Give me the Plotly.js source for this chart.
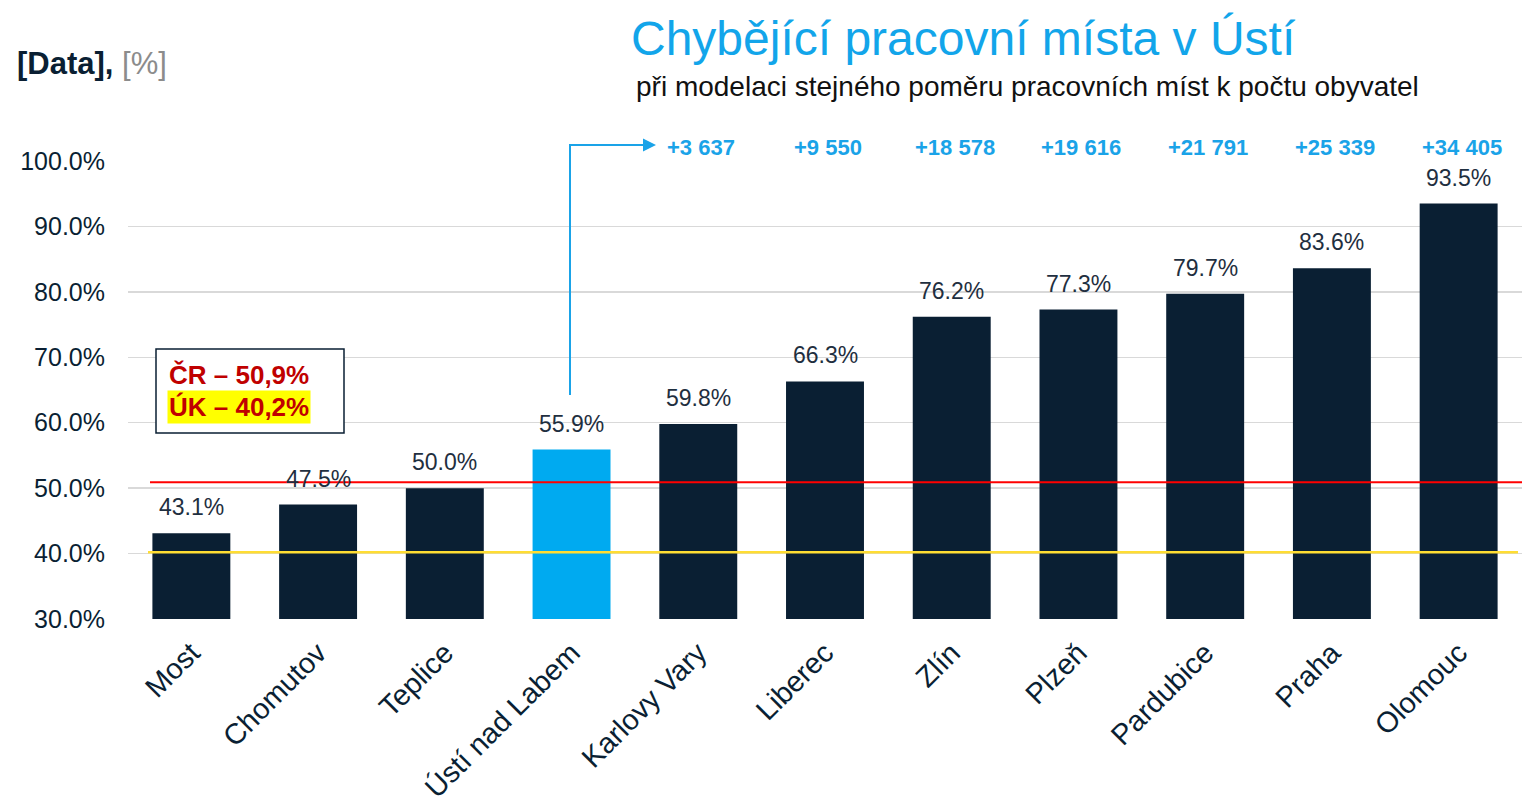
<!DOCTYPE html>
<html>
<head>
<meta charset="utf-8">
<script src="https://cdn.plot.ly/plotly-3.0.1.min.js"></script>
<style>html,body{margin:0;padding:0;background:#fff;}#chart{width:1522px;height:812px;}</style>
</head>
<body>
<div id="chart"></div>
<script>
const categories = ["Most", "Chomutov", "Teplice", "Ústí nad Labem", "Karlovy Vary", "Liberec", "Zlín", "Plzeň", "Pardubice", "Praha", "Olomouc"];
const values = [43.1, 47.5, 50.0, 55.9, 59.8, 66.3, 76.2, 77.3, 79.7, 83.6, 93.5];
const highlightCity = "Ústí nad Labem";
const missingJobs = ["", "", "", "", "+3 637", "+9 550", "+18 578", "+19 616", "+21 791", "+25 339", "+34 405"];
const crAverage = 50.9;
const ukAverage = 40.2;
const tickVals = [30, 40, 50, 60, 70, 80, 90, 100];
const tickText = ["30.0%", "40.0%", "50.0%", "60.0%", "70.0%", "80.0%", "90.0%", "100.0%"];

const FONT = "Arial, 'Liberation Sans', sans-serif";
const NAVY = "#0a1f33";
const ARROW = "#1aa3e8";

// plot area geometry in px (used to place paper-referenced decorations)
const L = 128, T = 161, W = 1394, H = 458;
const px = x => (x - L) / W;
const py = y => (T + H - y) / H;

const colors = categories.map(c => c === highlightCity ? "#00aaf0" : NAVY);

const trace = {
  type: "bar",
  x: categories,
  y: values,
  marker: {color: colors},
  hoverinfo: "x+y",
  cliponaxis: false
};

const annotations = [];
categories.forEach((c, i) => {
  annotations.push({
    x: c, y: values[i], xref: "x", yref: "y",
    text: values[i].toFixed(1) + "%",
    showarrow: false, yanchor: "bottom", yshift: 11,
    font: {family: FONT, size: 23, color: "#1f2f40"}
  });
  if (missingJobs[i]) {
    annotations.push({
      x: c, y: py(147), xref: "x", yref: "paper",
      text: "<b>" + missingJobs[i] + "</b>",
      showarrow: false, yanchor: "middle", xshift: 3,
      font: {family: FONT, size: 22, color: ARROW}
    });
  }
});

// arrow last segment with head
annotations.push({
  x: px(656), y: py(145), xref: "paper", yref: "paper",
  ax: -86, ay: 0,
  text: "", showarrow: true, arrowhead: 2, arrowsize: 1.3, arrowwidth: 2, arrowcolor: ARROW
});

// titles
annotations.push({
  xref: "paper", yref: "paper", x: px(963), y: py(38), xanchor: "center", yanchor: "middle",
  text: "Chybějící pracovní místa v Ústí", showarrow: false,
  font: {family: FONT, size: 48, color: "#12a5ea"}
});
annotations.push({
  xref: "paper", yref: "paper", x: px(1027), y: py(86), xanchor: "center", yanchor: "middle",
  text: "při modelaci stejného poměru pracovních míst k počtu obyvatel", showarrow: false,
  font: {family: FONT, size: 28, color: "#111111"}
});
annotations.push({
  xref: "paper", yref: "paper", x: px(15), y: py(63), xanchor: "left", yanchor: "middle",
  text: "<b>[Data],</b> <span style='color:#8c8c8c'>[%]</span>", showarrow: false,
  font: {family: FONT, size: 31, color: NAVY}
});
// box texts
annotations.push({
  xref: "paper", yref: "paper", x: px(167), y: py(375), xanchor: "left", yanchor: "middle",
  text: "<b>ČR – 50,9%</b>", showarrow: false,
  font: {family: FONT, size: 26, color: "#c00000"}
});
annotations.push({
  xref: "paper", yref: "paper", x: px(167), y: py(407), xanchor: "left", yanchor: "middle",
  text: "<b>ÚK – 40,2%</b>", showarrow: false, bgcolor: "#ffff00", borderpad: 1,
  font: {family: FONT, size: 26, color: "#c00000"}
});

const shapes = [
  {type: "line", xref: "paper", yref: "y", x0: px(150), x1: 1, y0: crAverage, y1: crAverage,
   line: {color: "#ff0000", width: 2}},
  {type: "line", xref: "paper", yref: "y", x0: px(148), x1: px(1518), y0: ukAverage, y1: ukAverage,
   line: {color: "#ffdd33", width: 2.5}},
  {type: "path", xref: "paper", yref: "paper",
   path: `M ${px(570)} ${py(395)} L ${px(570)} ${py(145)} L ${px(600)} ${py(145)}`,
   line: {color: ARROW, width: 2}},
  {type: "rect", xref: "paper", yref: "paper", x0: px(156), x1: px(344), y0: py(349), y1: py(433),
   fillcolor: "#ffffff", line: {color: NAVY, width: 1.5}}
];

const layout = {
  width: 1522, height: 812,
  margin: {l: L, r: 1522 - L - W, t: T, b: 812 - T - H},
  paper_bgcolor: "#ffffff", plot_bgcolor: "#ffffff",
  showlegend: false,
  bargap: 0.385,
  font: {family: FONT, color: NAVY},
  xaxis: {
    tickangle: -45, tickfont: {family: FONT, size: 29, color: NAVY},
    showgrid: false, zeroline: false, showline: false, ticks: "", ticklabelstandoff: 10
  },
  yaxis: {
    range: [30, 100], tickvals: tickVals, ticktext: tickText,
    tickfont: {family: FONT, size: 25, color: NAVY},
    showgrid: true, gridcolor: "#d9d9d9", gridwidth: 1.5, zeroline: false, showline: false,
    ticks: "", ticklabelstandoff: 22
  },
  annotations: annotations,
  shapes: shapes
};

Plotly.newPlot("chart", [trace], layout, {displayModeBar: false, staticPlot: true});
</script>
</body>
</html>
